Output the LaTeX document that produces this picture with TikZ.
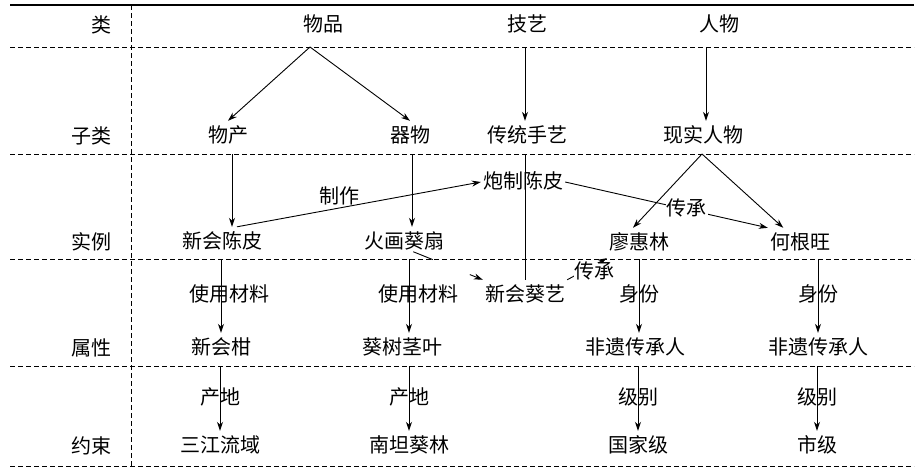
\documentclass[tikz,border=0pt]{standalone}
\usepackage{fontspec}
\newfontfamily\cjk{Noto Sans CJK SC}
\usetikzlibrary{arrows.meta,positioning,calc}

\begin{document}
\begin{tikzpicture}[
  x=1pt, y=-1pt,
  font=\cjk\fontsize{20}{24}\selectfont,
  ent/.style={inner xsep=2pt, inner ysep=6pt, text height=15pt, text depth=3pt},
  rowlab/.style={anchor=east, inner sep=0pt},
  elab/.style={inner sep=1pt, text height=15pt, text depth=3pt},
  arr/.style={-{Stealth[length=9pt,width=6pt]}, line width=0.9pt},
  ln/.style={line width=0.9pt},
  sep/.style={dash pattern=on 5pt off 3pt, line width=1pt},
]
\useasboundingbox (0,0) rectangle (921,471);
% frame
\draw[line width=1.6pt] (10,5) -- (914,5);
\foreach \y in {47,154,259,366,466} \draw[sep] (10,\y) -- (914,\y);
\draw[sep] (131,5) -- (131,466);
\coordinate (r1) at (0,47);
\coordinate (r2) at (0,154);
\coordinate (r3) at (0,259);
\coordinate (r4) at (0,366);

% row labels
\node[rowlab] (l1) at (112,25) {类};
\node[rowlab] (l2) at (112,136) {子类};
\node[rowlab] (l3) at (112,242) {实例};
\node[rowlab] (l4) at (112,348) {属性};
\node[rowlab] (l5) at (112,446) {约束};

% classes and subclasses
\node[ent] (wp) at (323,25) {物品};
\node[ent] (jy) at (527,25) {技艺};
\node[ent] (rw) at (719,25) {人物};
\node[ent] (wc) at (228,136) {物产};
\node[ent] (qw) at (410,136) {器物};
\node[ent] (ctsy) at (527,136) {传统手艺};
\node[ent] (xsrw) at (703,136) {现实人物};

% instances
\node[ent] (xhcp) at (222,242) {新会陈皮};
\node[ent] (hhks) at (404,242) {火画葵扇};
\node[ent] (pzcp) at (523,182) {炮制陈皮};
\node[ent] (lhl) at (639,243) {廖惠林};
\node[ent] (hgw) at (800,243) {何根旺};
\node[ent] (xhky) at (525,295) {新会葵艺};

% attributes and constraints
\node[ent] (xhg) at (221,348) {新会柑};
\node[ent] (kszy) at (402,348) {葵树茎叶};
\node[ent] (fy1) at (635,348) {非遗传承人};
\node[ent] (fy2) at (818,348) {非遗传承人};
\node[ent] (sjly) at (220,446) {三江流域};
\node[ent] (ntkl) at (409,446) {南坦葵林};
\node[ent] (gjj) at (638,446) {国家级};
\node[ent] (sj) at (817,446) {市级};

% class -> subclass
\draw[arr] ([xshift=-13pt]wp.south |- r1) -- (wc.north);
\draw[arr] ([xshift=-13pt]wp.south |- r1) -- (qw.north);
\draw[arr] ([xshift=-2pt]jy.south |- r1) -- ([xshift=-2pt]jy.south |- ctsy.north);
\draw[arr] ([xshift=-13pt]rw.south |- r1) -- ([xshift=-13pt]rw.south |- xsrw.north);

% subclass -> instance
\draw[arr] ([xshift=4pt]wc.south |- r2) -- ([xshift=4pt]wc.south |- xhcp.north);
\draw[arr] ([xshift=2pt]qw.south |- r2) -- ([xshift=2pt]qw.south |- hhks.north);
\draw[ln] ([xshift=-2pt]ctsy.south |- r2) -- ([xshift=-2pt]ctsy.south |- xhky.north);
\draw[arr] ([xshift=-1pt]xsrw.south |- r2) -- ([xshift=-6pt]lhl.north);
\draw[arr] ([xshift=-1pt]xsrw.south |- r2) -- (hgw);

% relations between instances
\draw[arr] ([xshift=15pt]xhcp.north) -- node[elab, above, pos=0.42] (zz) {制作} (pzcp.west);
\draw[arr] (pzcp.east) -- node[elab, fill=white, pos=0.6] (cc1) {传承} (hgw.north west);
\draw[arr, shorten <=10pt, dash pattern=on 21pt off 40pt on 20pt]
  ([yshift=-6pt]hhks.center) -- (xhky.north west);
\draw[arr] (xhky.north east) -- node[elab, fill=white, pos=0.7, yshift=-8pt] (cc2) {传承} (lhl.south west);

% instance -> attribute
\draw[arr] (xhg.north |- r3) -- node[elab, xshift=8pt] (sy1) {使用材料} (xhg.north);
\draw[arr] (ntkl.north |- r3) -- node[elab, xshift=9pt] (sy2) {使用材料} (ntkl.north |- kszy.north);
\draw[arr] (lhl.south |- r3) -- node[elab] (sf1) {身份} (lhl.south |- fy1.north);
\draw[arr] (fy2.north |- r3) -- node[elab] (sf2) {身份} (fy2.north);

% attribute -> constraint
\draw[arr] (sjly.north |- r4) -- node[elab] (cd1) {产地} (sjly.north);
\draw[arr] (ntkl.north |- r4) -- node[elab] (cd2) {产地} (ntkl.north);
\draw[arr] (gjj.north |- r4) -- node[elab] (jb1) {级别} (gjj.north);
\draw[arr] (sj.north |- r4) -- node[elab] (jb2) {级别} (sj.north);
\end{tikzpicture}
\end{document}
